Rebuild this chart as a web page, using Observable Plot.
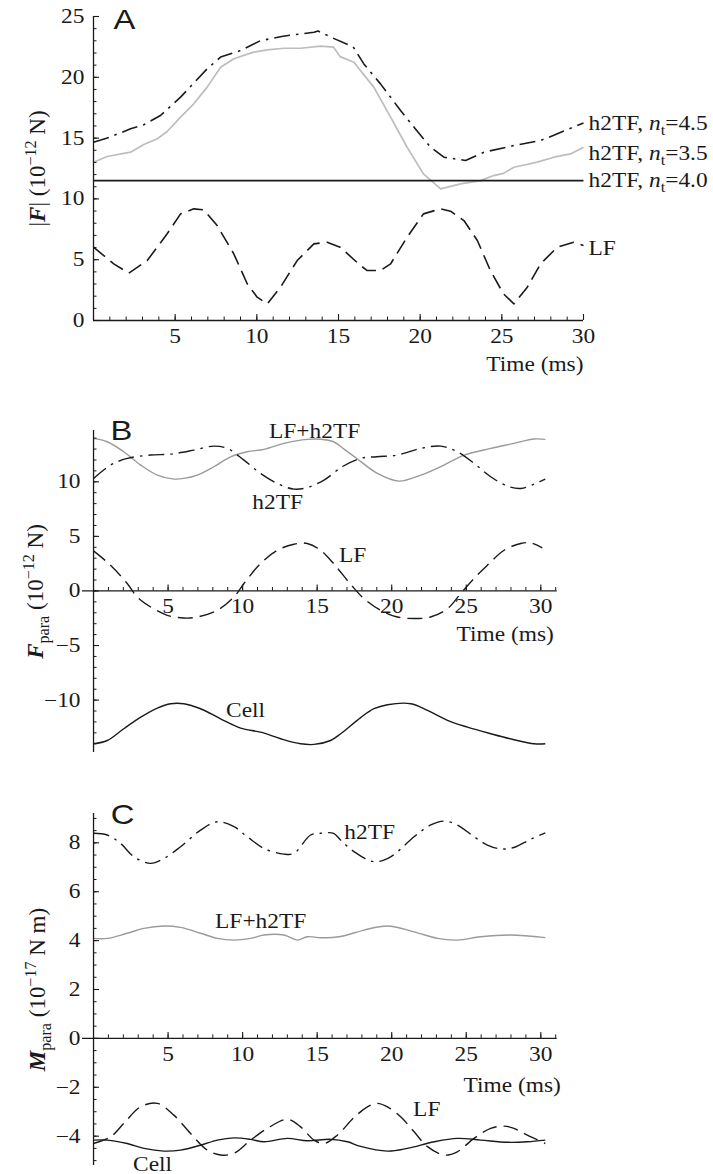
<!DOCTYPE html>
<html><head><meta charset="utf-8">
<script src="https://cdn.jsdelivr.net/npm/d3@7"></script>
<script src="https://cdn.jsdelivr.net/npm/@observablehq/plot@0.6"></script>
<style>
body{margin:0;background:#fff;}
#chart{width:713px;height:1174px;position:relative;background:#fff;}
#chart svg{display:block;overflow:visible;}
</style></head><body><div id="chart"></div>
<script>
// ---------- Panel A : |F| ----------
const A_h45_t = [0, 0.84, 2.27, 3.08, 4.1, 5.33, 6.96, 7.78, 9.0, 10.2, 11.6, 13.5, 13.75, 14.7, 15.9, 16.55, 17.57, 18.8, 19.8, 20.64, 21.45, 22.78, 23.9, 25.74, 27.37, 28.4, 30];
const A_h45_v = [14.66, 15.0, 15.76, 16.1, 16.86, 18.37, 20.7, 21.66, 22.2, 23.0, 23.38, 23.7, 23.8, 23.2, 22.5, 21.1, 19.46, 17.27, 15.6, 14.25, 13.43, 13.16, 13.84, 14.39, 14.8, 15.35, 16.25];
const A_h35_t = [0, 0.84, 2.27, 3.08, 3.9, 4.51, 5.33, 6.14, 6.96, 7.78, 8.59, 9.8, 10.64, 11.65, 12.68, 13.9, 14.7, 15.1, 15.94, 17.16, 18.19, 19.2, 20.2, 21.25, 22.47, 23.7, 24.5, 25.1, 25.74, 27.17, 28.19, 29.2, 30];
const A_h35_v = [13.02, 13.49, 13.84, 14.47, 14.94, 15.54, 16.72, 17.82, 19.19, 20.83, 21.52, 22.07, 22.26, 22.39, 22.39, 22.56, 22.48, 21.7, 21.24, 19.19, 16.72, 14.25, 12.06, 10.83, 11.24, 11.5, 11.92, 12.1, 12.6, 13.02, 13.43, 13.7, 14.25];
const A_h40_t = [0, 30];
const A_h40_v = [11.5, 11.5];
const A_lf_t = [0, 1.24, 2.16, 3.29, 4.51, 5.33, 6.14, 6.75, 7.57, 8.59, 9.41, 10.02, 10.64, 11.45, 12.47, 13.49, 14.3, 15.1, 16.35, 16.76, 17.57, 18.19, 19.2, 20.2, 21.25, 21.86, 22.68, 23.5, 24.3, 25.1, 25.74, 26.56, 27.37, 28.4, 29.4, 30];
const A_lf_v = [6.03, 4.66, 3.89, 4.93, 7.13, 8.77, 9.18, 9.1, 7.81, 5.48, 3.02, 1.92, 1.37, 2.74, 4.93, 6.3, 6.44, 6.03, 4.52, 4.11, 4.11, 4.66, 6.85, 8.77, 9.18, 8.99, 8.22, 6.58, 4.11, 2.19, 1.37, 2.74, 4.66, 6.03, 6.44, 6.17];

// ---------- Panel B : F_para ----------
const B_sum_t = [0, 0.92, 2.03, 3.17, 4.28, 5.39, 6.06, 6.96, 8.07, 9.19, 10.3, 11.43, 12.77, 14.34, 15.23, 16.1, 16.8, 17.6, 19.04, 20.49, 21.95, 23.5, 24.86, 26.64, 28.2, 29.55, 30.3];
const B_sum_v = [13.98, 13.67, 12.75, 11.53, 10.61, 10.25, 10.31, 10.61, 11.38, 12.29, 12.75, 12.97, 13.52, 13.89, 13.9, 13.67, 13.0, 12.2, 10.77, 10.06, 10.61, 11.53, 12.45, 13.06, 13.52, 13.92, 13.89];
const B_h2_t = [0, 1.14, 2.26, 3.83, 5.17, 6.73, 8.07, 8.97, 10.09, 11.2, 12.33, 13.44, 14.34, 15.46, 16.7, 17.9, 19.0, 20.38, 21.95, 23.29, 24.4, 25.52, 26.64, 27.77, 28.66, 29.55, 30.3];
const B_h2_v = [10.31, 11.53, 12.14, 12.45, 12.54, 12.9, 13.27, 13.06, 11.99, 10.77, 9.85, 9.33, 9.48, 10.16, 11.4, 12.14, 12.3, 12.45, 13.06, 13.27, 12.75, 11.69, 10.46, 9.6, 9.39, 9.79, 10.25];
const B_lf_t = [0, 1.14, 2.26, 2.93, 3.83, 4.95, 6.06, 6.96, 8.3, 9.42, 10.09, 11.2, 12.33, 13.44, 14.34, 15.23, 16.1, 17.25, 18.14, 19.26, 20.38, 21.5, 22.6, 23.74, 24.63, 25.52, 26.42, 27.54, 28.66, 29.33, 30.1];
const B_lf_v = [3.67, 2.36, 0.68, -0.55, -1.47, -2.23, -2.48, -2.39, -1.77, -0.55, 0.68, 2.51, 3.73, 4.28, 4.35, 3.73, 2.51, 0.6, -0.7, -1.77, -2.39, -2.53, -2.39, -1.62, -0.24, 1.14, 2.36, 3.73, 4.35, 4.4, 3.95];
const B_cell_t = [0, 0.92, 2.03, 3.17, 4.28, 5.17, 6.06, 7.18, 8.52, 9.87, 11.2, 12.55, 13.89, 14.79, 15.9, 16.58, 17.92, 18.81, 19.71, 21.28, 22.4, 23.74, 25.08, 26.64, 28.2, 29.55, 30.3];
const B_cell_v = [-14.0, -13.7, -12.62, -11.56, -10.73, -10.33, -10.33, -10.79, -11.71, -12.57, -12.94, -13.54, -14.0, -14.06, -13.7, -13.08, -11.6, -10.79, -10.42, -10.33, -10.94, -11.86, -12.48, -13.08, -13.63, -14.0, -14.0];

// ---------- Panel C : M_para ----------
const C_h2_t = [0, 0.92, 1.81, 2.71, 3.83, 4.72, 5.84, 7.18, 8.3, 9.42, 10.31, 11.43, 12.77, 13.44, 14.56, 15.23, 16.1, 16.58, 17.47, 18.81, 19.93, 21.5, 22.62, 23.51, 24.4, 25.52, 26.42, 27.32, 28.2, 29.33, 30.3];
const C_h2_v = [8.39, 8.32, 7.98, 7.43, 7.16, 7.36, 7.84, 8.52, 8.86, 8.66, 8.25, 7.77, 7.54, 7.57, 8.32, 8.39, 8.39, 8.11, 7.64, 7.23, 7.43, 8.25, 8.73, 8.89, 8.73, 8.25, 7.91, 7.75, 7.81, 8.15, 8.41];
const C_sum_t = [0, 0.92, 2.26, 3.38, 4.72, 5.84, 7.18, 8.3, 9.42, 10.54, 11.43, 12.77, 13.67, 14.34, 15.23, 16.58, 18.14, 19.71, 21.5, 23.07, 24.4, 25.97, 27.99, 30.3];
const C_sum_v = [4.09, 4.09, 4.3, 4.5, 4.6, 4.54, 4.3, 4.09, 4.02, 4.09, 4.23, 4.23, 4.02, 4.16, 4.12, 4.17, 4.43, 4.6, 4.36, 4.09, 4.02, 4.16, 4.23, 4.12];
const C_lf_t = [0, 1.14, 2.03, 3.15, 4.28, 5.39, 6.51, 7.63, 8.52, 9.42, 10.54, 11.66, 13.0, 13.89, 14.79, 15.46, 16.35, 17.47, 18.37, 19.04, 19.71, 20.6, 21.5, 22.4, 23.51, 24.4, 25.52, 26.64, 27.54, 28.2, 29.1, 30.3];
const C_lf_v = [-4.3, -4.03, -3.48, -2.8, -2.66, -3.14, -3.89, -4.57, -4.77, -4.7, -4.16, -3.68, -3.31, -3.62, -4.16, -4.3, -3.96, -3.24, -2.8, -2.66, -2.8, -3.21, -3.82, -4.43, -4.77, -4.64, -4.09, -3.68, -3.59, -3.68, -3.96, -4.3];
const C_cell_t = [0, 0.92, 2.26, 3.38, 4.72, 5.84, 7.18, 8.3, 9.42, 10.54, 11.43, 13.0, 14.34, 15.9, 17.03, 17.92, 19.71, 21.05, 22.84, 24.4, 25.97, 27.77, 29.1, 30.3];
const C_cell_v = [-4.16, -4.16, -4.3, -4.5, -4.61, -4.57, -4.37, -4.16, -4.07, -4.13, -4.23, -4.09, -4.19, -4.13, -4.23, -4.42, -4.61, -4.5, -4.23, -4.09, -4.16, -4.25, -4.23, -4.16];

// ---------- tick labels ----------
const A_xLabels = [5, 10, 15, 20, 25, 30];
const A_yLabels = [0, 5, 10, 15, 20, 25];
const B_xLabels = [5, 10, 15, 20, 25, 30];
const B_yLabels = [-10, -5, 0, 5, 10];
const C_xLabels = [5, 10, 15, 20, 25, 30];
const C_yLabels = [-4, -2, 0, 2, 4, 6, 8];

// ---------- styling ----------
const INK = "#1a1a1a";
const SERIF = "Liberation Serif, Times New Roman, serif";
const SANS = "Liberation Sans, Arial, sans-serif";
const SX = 1.17;
const DASH = "15,7";
const DASHDOT = "16,6,2.5,6";

const rows = (t, v) => t.map((d, i) => ({t: d, v: v[i]}));
const fmt = d => d < 0 ? "\u2212" + Math.abs(d) : String(d);

const SUB = 'style="baseline-shift:-5px" font-size="14"';
const SUP = 'style="baseline-shift:8px" font-size="14"';
const rich = {
  "h2TF, nt=4.5": 'h2TF, <tspan font-style="italic">n</tspan><tspan dy="5" font-size="14">t</tspan><tspan dy="-5">=4.5</tspan>',
  "h2TF, nt=3.5": 'h2TF, <tspan font-style="italic">n</tspan><tspan dy="5" font-size="14">t</tspan><tspan dy="-5">=3.5</tspan>',
  "h2TF, nt=4.0": 'h2TF, <tspan font-style="italic">n</tspan><tspan dy="5" font-size="14">t</tspan><tspan dy="-5">=4.0</tspan>',
  "|F| (10\u221212 N)": `|<tspan font-weight="bold" font-style="italic">F</tspan>| (10<tspan ${SUP}>\u221212</tspan> N)`,
  "Fpara (10\u221212 N)": `<tspan font-weight="bold" font-style="italic">F</tspan><tspan ${SUB}>para</tspan> (10<tspan ${SUP}>\u221212</tspan> N)`,
  "Mpara (10\u221217 N m)": `<tspan font-weight="bold" font-style="italic">M</tspan><tspan ${SUB}>para</tspan> (10<tspan ${SUP}>\u221217</tspan> N m)`
};

function axisMarks(c) {
  const m = [];
  m.push(Plot.ruleY([0], {stroke: INK, strokeWidth: 1.3}));
  m.push(Plot.ruleX([0], {stroke: INK, strokeWidth: 1.3}));
  m.push(Plot.ruleX(c.xMinor, {x: d => d, y1: () => 0, y2: () => 0, insetBottom: 3.5, stroke: INK, strokeWidth: 1}));
  m.push(Plot.ruleX(c.xLabels, {x: d => d, y1: () => 0, y2: () => 0, insetBottom: 6, stroke: INK, strokeWidth: 1.1}));
  m.push(Plot.ruleY(c.yMinor, {y: d => d, x1: () => 0, x2: () => 0, insetRight: -3.5, stroke: INK, strokeWidth: 1}));
  m.push(Plot.ruleY(c.yLabels, {y: d => d, x1: () => 0, x2: () => 0, insetRight: -6, stroke: INK, strokeWidth: 1.1}));
  m.push(Plot.text(c.xLabels, {x: d => d, y: () => 0, dy: 16, text: d => fmt(d), fontFamily: SERIF, fontSize: 20, fill: INK}));
  m.push(Plot.text(c.yLabels, {x: () => 0, y: d => d, dx: c.ylabDx, textAnchor: "end", text: d => fmt(d), fontFamily: SERIF, fontSize: 20, fill: INK}));
  m.push(Plot.text(["Time (ms)"], {x: () => 30, y: () => 0, dx: c.timeDx, dy: c.timeDy, textAnchor: "end", text: d => d, fontFamily: SERIF, fontSize: 20, fill: INK}));
  m.push(Plot.text([c.ylabel], {frameAnchor: "left", textAnchor: "middle", dx: c.ylabelDx, rotate: -90, text: d => d, fontFamily: SERIF, fontSize: 20, fill: INK}));
  m.push(Plot.text([c.letter], {x: () => 0, y: () => c.yDomain[1], dx: c.letterDx, dy: c.letterDy, text: d => d, fontFamily: SANS, fontSize: 28, fill: INK}));
  return m;
}

// stretch every text horizontally (the reference glyphs are wider than tall)
function finish(svg) {
  d3.select(svg).selectAll("text").each(function () {
    const el = this;
    const txt = el.textContent;
    if (rich[txt]) el.innerHTML = rich[txt];
    const tr = el.getAttribute("transform") || "";
    const rot = /rotate/.test(tr);
    el.setAttribute("transform", tr + (rot ? " scale(1.15,1.12)" : ` scale(${SX},1)`));
  });
  return svg;
}

function lineMark(t, v, stroke, dash, curve, w = 1.5) {
  return Plot.line(rows(t, v), {x: "t", y: "v", stroke, strokeWidth: w, strokeDasharray: dash, strokeLinecap: "butt", curve});
}
function label(txt, x, y, anchor = "middle", dx = 0) {
  return Plot.text([txt], {x: () => x, y: () => y, dx, textAnchor: anchor, text: d => d, fontFamily: SERIF, fontSize: 20, fill: INK});
}

const chart = document.getElementById("chart");

// Panel A
const cA = {
  xMinor: d3.range(1, 30), xLabels: A_xLabels, yMinor: d3.range(1, 25), yLabels: A_yLabels,
  ylabDx: -9, timeDx: 0, timeDy: 44, ylabel: "|F| (10\u221212 N)", ylabelDx: -56,
  letter: "A", yDomain: [0, 25], letterDx: 31, letterDy: 4
};
chart.appendChild(finish(Plot.plot({
  width: 713, height: 380, marginLeft: 93, marginRight: 130, marginTop: 16, marginBottom: 60,
  x: {domain: [0, 30], axis: null}, y: {domain: cA.yDomain, axis: null},
  style: {background: "transparent", overflow: "visible"},
  marks: [
    lineMark(A_h35_t, A_h35_v, "#bdbdbd", null, "linear", 1.7),
    lineMark(A_h40_t, A_h40_v, INK, null, "linear", 1.7),
    lineMark(A_h45_t, A_h45_v, INK, DASHDOT, "linear", 1.6),
    lineMark(A_lf_t, A_lf_v, INK, DASH, "linear", 1.6),
    ...axisMarks(cA),
    label("h2TF, nt=4.5", 30, 16.2, "start", 5),
    label("h2TF, nt=3.5", 30, 13.73, "start", 5),
    label("h2TF, nt=4.0", 30, 11.51, "start", 5),
    label("LF", 30, 5.92, "start", 5)
  ]
})));

// Panel B
const cB = {
  xMinor: d3.range(1, 32), xLabels: B_xLabels, yMinor: d3.range(-14, 15), yLabels: B_yLabels,
  ylabDx: -13, timeDx: 13, timeDy: 44, ylabel: "Fpara (10\u221212 N)", ylabelDx: -47,
  letter: "B", yDomain: [-14.8, 14.7], letterDx: 28, letterDy: 1
};
chart.appendChild(finish(Plot.plot({
  width: 713, height: 390, marginLeft: 82, marginRight: 156.3, marginTop: 50, marginBottom: 18,
  x: {domain: [-0.74, 31.1], axis: null}, y: {domain: cB.yDomain, axis: null},
  style: {background: "transparent", overflow: "visible"},
  marks: [
    lineMark(B_sum_t, B_sum_v, "#9a9a9a", null, "catmull-rom", 1.4),
    lineMark(B_h2_t, B_h2_v, INK, DASHDOT, "catmull-rom", 1.4),
    lineMark(B_lf_t, B_lf_v, INK, DASH, "catmull-rom", 1.4),
    lineMark(B_cell_t, B_cell_v, INK, null, "catmull-rom", 1.4),
    ...axisMarks(cB),
    label("LF+h2TF", 14.83, 14.56),
    label("h2TF", 12.35, 8.05),
    label("LF", 17.38, 3.28),
    label("Cell", 10.2, -10.94)
  ]
})));

// Panel C
const cC = {
  xMinor: d3.range(1, 32), xLabels: C_xLabels, yMinor: d3.range(-5, 9.01, 0.5), yLabels: C_yLabels,
  ylabDx: -13, timeDx: 20, timeDy: 47, ylabel: "Mpara (10\u221217 N m)", ylabelDx: -45,
  letter: "C", yDomain: [-5.2, 9.2], letterDx: 29, letterDy: 2
};
chart.appendChild(finish(Plot.plot({
  width: 713, height: 404, marginLeft: 82, marginRight: 156.3, marginTop: 43, marginBottom: 9,
  x: {domain: [-0.74, 31.1], axis: null}, y: {domain: cC.yDomain, axis: null},
  style: {background: "transparent", overflow: "visible"},
  marks: [
    lineMark(C_sum_t, C_sum_v, "#9a9a9a", null, "catmull-rom", 1.4),
    lineMark(C_h2_t, C_h2_v, INK, DASHDOT, "catmull-rom", 1.4),
    lineMark(C_lf_t, C_lf_v, INK, DASH, "catmull-rom", 1.4),
    lineMark(C_cell_t, C_cell_v, INK, null, "catmull-rom", 1.4),
    ...axisMarks(cC),
    label("h2TF", 18.52, 8.4),
    label("LF+h2TF", 11.21, 4.76),
    label("LF", 22.35, -2.93),
    label("Cell", 3.96, -5.18)
  ]
})));
</script></body></html>
